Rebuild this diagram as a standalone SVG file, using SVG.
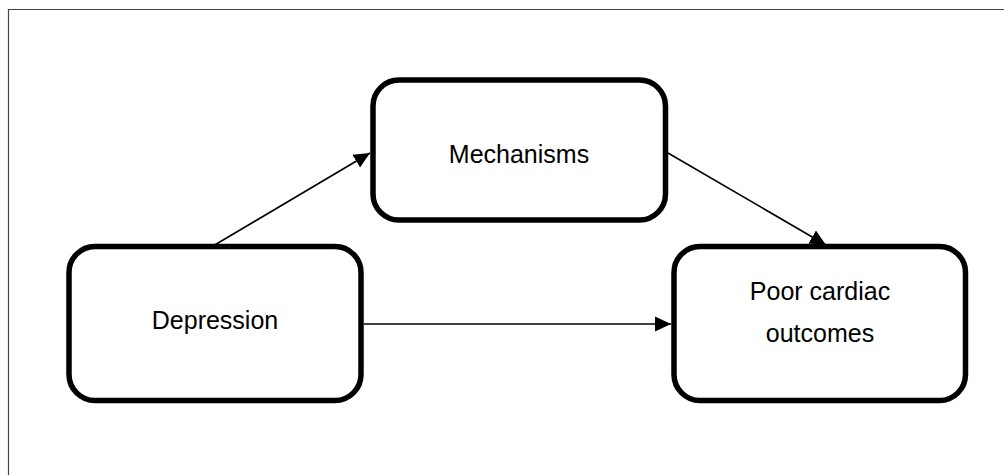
<svg xmlns="http://www.w3.org/2000/svg" width="1004" height="475" viewBox="0 0 1004 475">
<style>
.box{fill:#fff;stroke:#000;stroke-width:5.5}
.lbl{font-family:"Liberation Sans",Arial,sans-serif;font-size:25px;fill:#000;text-anchor:middle}
.conn{stroke:#000;stroke-width:1.6;fill:none;marker-end:url(#ah)}
</style>
<defs>
<marker id="ah" markerUnits="userSpaceOnUse" markerWidth="16" markerHeight="16" viewBox="0 0 15 14" refX="15" refY="7" orient="auto">
<path d="M0,0 L15,7 L0,14 Z" fill="#000"/>
</marker>
</defs>
<rect width="1004" height="475" fill="#fff"/>
<path d="M8.5,480 V9.5 H1010" fill="none" stroke="#444" stroke-width="1.2"/>
<g id="connectors">
<line class="conn" x1="213" y1="246" x2="370" y2="153"/>
<line class="conn" x1="668" y1="153" x2="826" y2="245"/>
<line class="conn" x1="364" y1="324" x2="671" y2="324"/>
</g>
<g id="mechanisms">
<rect class="box" x="373" y="80" width="292.5" height="140" rx="26"/>
<text class="lbl" x="519" y="162.5">Mechanisms</text>
</g>
<g id="depression">
<rect class="box" x="69" y="246.5" width="292" height="154" rx="26"/>
<text class="lbl" x="215" y="329">Depression</text>
</g>
<g id="outcomes">
<rect class="box" x="674" y="246.5" width="291.5" height="154" rx="26"/>
<text class="lbl" x="820" y="300">Poor cardiac</text>
<text class="lbl" x="820" y="341.5">outcomes</text>
</g>
</svg>
